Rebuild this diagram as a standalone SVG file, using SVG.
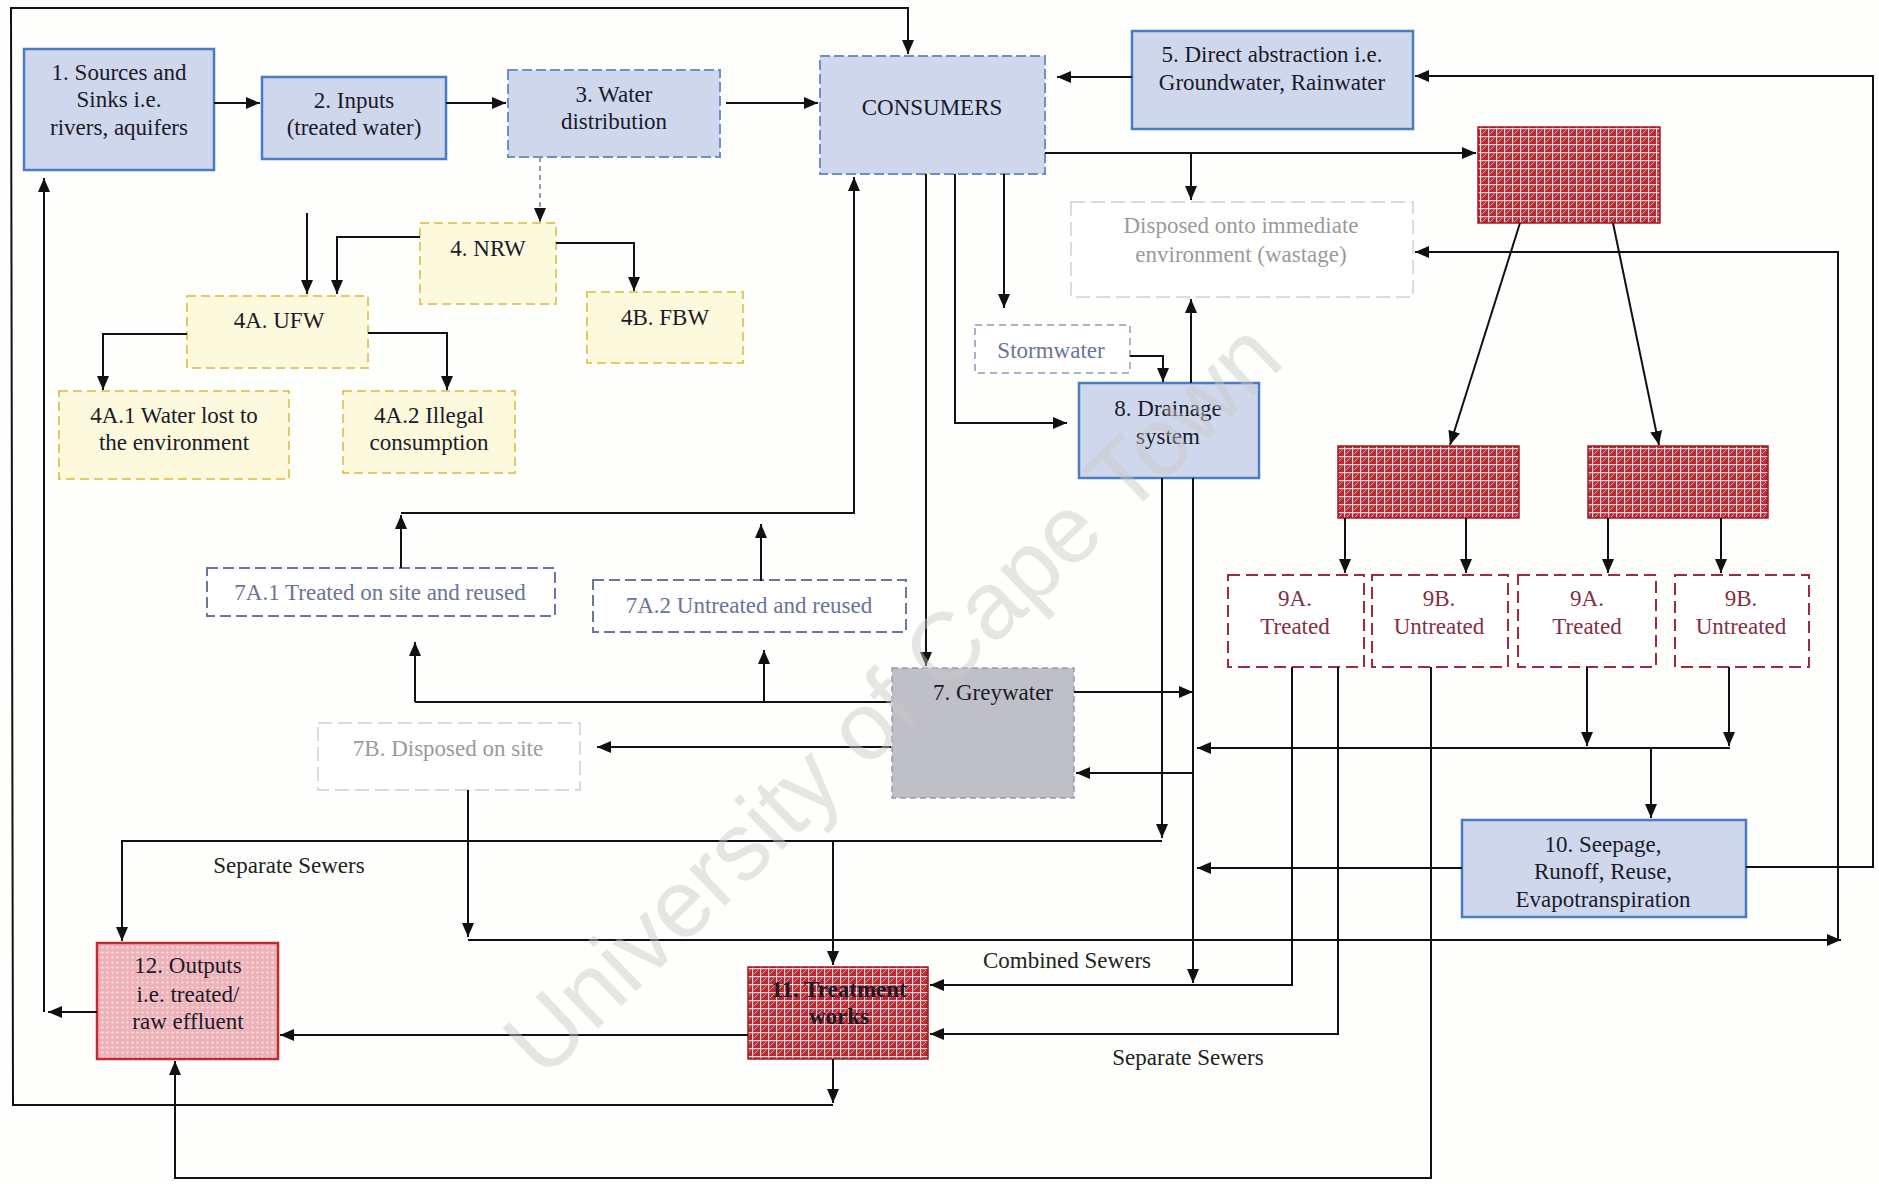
<svg xmlns="http://www.w3.org/2000/svg" width="1879" height="1184" viewBox="0 0 1879 1184">
<defs>
<marker id="ah" viewBox="0 0 14 12" refX="14" refY="6" markerWidth="14" markerHeight="12" markerUnits="userSpaceOnUse" orient="auto"><path d="M0,0 L14,6 L0,12 z" fill="#111"/></marker>
<pattern id="hatch" width="8" height="8" patternUnits="userSpaceOnUse"><rect width="8" height="8" fill="#b52a33"/><path d="M0,0.6H8M0.6,0V8" stroke="#f4d2d5" stroke-width="1.2"/><path d="M2,6L6,2" stroke="#eab0b5" stroke-width="0.9"/></pattern>
<pattern id="dots" width="5" height="5" patternUnits="userSpaceOnUse"><rect width="5" height="5" fill="#eeb3b9"/><circle cx="2.5" cy="2.5" r="1.1" fill="#fbe6e8"/></pattern>
<style>
text{font-family:"Liberation Serif","Times New Roman",serif;font-size:23px;text-anchor:middle;fill:#1a1a2a}
.blue{fill:#cfd7ec;stroke:#4a7cc4;stroke-width:2.5}
.blued{fill:#cfd7ec;stroke:#6f8fc8;stroke-width:2;stroke-dasharray:10 4}
.yel{fill:#fcf9dc;stroke:#e6c866;stroke-width:2;stroke-dasharray:9 5}
.red{fill:url(#hatch);stroke:#a01c26;stroke-width:1.5}
.nine{fill:#fff;stroke:#9c2a40;stroke-width:2;stroke-dasharray:12 6}
.ninet{fill:#85303f}
.sev{fill:#fff;stroke:#6878a0;stroke-width:2;stroke-dasharray:11 5}
.sevt{fill:#6a7498}
.pale{fill:#fff;stroke:#cfcfcf;stroke-width:1.5;stroke-dasharray:14 6}
.palet{fill:#9a9a9a}
.c path{fill:none;stroke:#111;stroke-width:2}
.c path.a{marker-end:url(#ah)}
.lbl{fill:#222}
</style>
</defs>
<rect width="1879" height="1184" fill="#fefefc"/>

<g id="n1"><rect class="blue" x="24" y="49" width="190" height="121"/><text x="119" y="80">1. Sources and</text><text x="119" y="107">Sinks i.e.</text><text x="119" y="135">rivers, aquifers</text></g>
<g id="n2"><rect class="blue" x="262" y="77" width="184" height="82"/><text x="354" y="108">2. Inputs</text><text x="354" y="135">(treated water)</text></g>
<g id="n3"><rect class="blued" x="508" y="70" width="212" height="87"/><text x="614" y="102">3. Water</text><text x="614" y="129">distribution</text></g>
<g id="consumers"><rect class="blued" x="820" y="56" width="225" height="118"/><text x="932" y="115">CONSUMERS</text></g>
<g id="n5"><rect class="blue" x="1132" y="31" width="281" height="98"/><text x="1272" y="62">5. Direct abstraction i.e.</text><text x="1272" y="90">Groundwater, Rainwater</text></g>
<g id="red-top"><rect class="red" x="1478" y="127" width="182" height="96"/></g>
<g id="disposed"><rect class="pale" x="1071" y="202" width="342" height="95"/><text class="palet" x="1241" y="233">Disposed onto immediate</text><text class="palet" x="1241" y="262">environment (wastage)</text></g>
<g id="n4"><rect class="yel" x="420" y="223" width="136" height="81"/><text x="488" y="256">4. NRW</text></g>
<g id="n4a"><rect class="yel" x="187" y="296" width="181" height="72"/><text x="279" y="328">4A. UFW</text></g>
<g id="n4b"><rect class="yel" x="587" y="292" width="156" height="71"/><text x="665" y="325">4B. FBW</text></g>
<g id="n4a1"><rect class="yel" x="59" y="391" width="230" height="88"/><text x="174" y="423">4A.1  Water lost to</text><text x="174" y="450">the environment</text></g>
<g id="n4a2"><rect class="yel" x="343" y="391" width="172" height="82"/><text x="429" y="423">4A.2 Illegal</text><text x="429" y="450">consumption</text></g>
<g id="stormwater"><rect class="sev" x="975" y="325" width="155" height="48" style="stroke:#8898c0;stroke-width:1.5;stroke-dasharray:7 5"/><text class="sevt" x="1051" y="358">Stormwater</text></g>
<g id="n8"><rect class="blue" x="1079" y="383" width="180" height="95"/><text x="1168" y="416">8. Drainage</text><text x="1168" y="444">system</text></g>
<g id="red-mid-left"><rect class="red" x="1338" y="446" width="181" height="72"/></g>
<g id="red-mid-right"><rect class="red" x="1588" y="446" width="180" height="72"/></g>
<g id="n7a1"><rect class="sev" x="207" y="568" width="348" height="48"/><text class="sevt" x="380" y="600">7A.1 Treated on site and reused</text></g>
<g id="n7a2"><rect class="sev" x="593" y="580" width="313" height="52"/><text class="sevt" x="749" y="613">7A.2 Untreated and reused</text></g>
<g id="n9a1"><rect class="nine" x="1228" y="575" width="136" height="92"/><text class="ninet" x="1295" y="606">9A.</text><text class="ninet" x="1295" y="634">Treated</text></g>
<g id="n9b1"><rect class="nine" x="1372" y="575" width="136" height="92"/><text class="ninet" x="1439" y="606">9B.</text><text class="ninet" x="1439" y="634">Untreated</text></g>
<g id="n9a2"><rect class="nine" x="1518" y="575" width="138" height="92"/><text class="ninet" x="1587" y="606">9A.</text><text class="ninet" x="1587" y="634">Treated</text></g>
<g id="n9b2"><rect class="nine" x="1675" y="575" width="134" height="92"/><text class="ninet" x="1741" y="606">9B.</text><text class="ninet" x="1741" y="634">Untreated</text></g>
<g id="n7"><rect x="892" y="668" width="182" height="130" fill="#bfbfc8" stroke="#9a9aa6" stroke-width="1.5" stroke-dasharray="6 4"/><text x="993" y="700">7. Greywater</text></g>
<g id="n7b"><rect class="pale" x="318" y="723" width="262" height="67"/><text class="palet" x="448" y="756">7B. Disposed on site</text></g>
<g id="n10"><rect class="blue" x="1462" y="820" width="284" height="97"/><text x="1603" y="852">10. Seepage,</text><text x="1603" y="879">Runoff, Reuse,</text><text x="1603" y="907">Evapotranspiration</text></g>
<g id="n12"><rect x="97" y="943" width="181" height="116" fill="url(#dots)" stroke="#c02a34" stroke-width="2.5"/><text x="188" y="973" fill="#3a2024">12. Outputs</text><text x="188" y="1002" fill="#3a2024">i.e. treated/</text><text x="188" y="1029" fill="#3a2024">raw effluent</text></g>
<g id="n11"><rect class="red" x="748" y="967" width="180" height="92"/><text x="839" y="997" fill="#2a0808" font-weight="bold">11. Treatment</text><text x="839" y="1024" fill="#2a0808" font-weight="bold">works</text></g>

<g id="connectors" class="c">
<path class="a" d="M214,103 L260,103"/>
<path class="a" d="M446,103 L506,103"/>
<path class="a" d="M726,103 L818,103"/>
<path class="a" d="M833,1105 L13,1105 L11,8 L908,8 L908,54"/>
<path class="a" d="M833,1059 L833,1103"/>
<path class="a" d="M97,1012 L48,1012"/>
<path class="a" d="M44,1012 L44,178"/>
<path class="a" d="M1132,77 L1057,77"/>
<path class="a" d="M1746,867 L1873,867 L1873,76 L1415,76"/>
<path class="a" d="M1045,153 L1476,153"/>
<path class="a" d="M1191,153 L1191,200"/>
<path class="a" d="M1838,940 L1838,252 L1415,252"/>
<path class="a" d="M468,940 L1841,940"/>
<path class="a" d="M468,790 L468,937"/>
<path class="a" d="M1520,223 L1450,445"/>
<path class="a" d="M1613,223 L1659,445"/>
<path class="a" d="M1345,518 L1345,573"/>
<path class="a" d="M1466,518 L1466,573"/>
<path class="a" d="M1608,518 L1608,573"/>
<path class="a" d="M1721,518 L1721,573"/>
<path class="a" d="M1292,667 L1292,985 L930,985"/>
<path class="a" d="M1338,667 L1338,1034 L930,1034"/>
<path class="a" d="M1431,667 L1431,1178 L175,1178 L175,1061"/>
<path class="a" d="M1587,667 L1587,746"/>
<path class="a" d="M1729,667 L1729,746"/>
<path class="a" d="M1730,748 L1197,748"/>
<path class="a" d="M1651,748 L1651,818"/>
<path class="a" d="M1462,868 L1197,868"/>
<path class="a" d="M1162,478 L1162,838"/>
<path class="a" d="M1162,841 L122,841 L122,941"/>
<path class="a" d="M833,841 L833,965"/>
<path class="a" d="M1193,478 L1193,983"/>
<path class="a" d="M1074,692 L1193,692"/>
<path class="a" d="M1193,773 L1076,773"/>
<path d="M891,702 L415,702"/>
<path class="a" d="M415,702 L415,642"/>
<path class="a" d="M764,702 L764,650"/>
<path class="a" d="M891,747 L597,747"/>
<path class="a" d="M401,568 L401,515"/>
<path class="a" d="M401,513 L854,513 L854,177"/>
<path class="a" d="M761,581 L761,524"/>
<path class="a" d="M926,174 L926,666"/>
<path class="a" d="M955,174 L955,423 L1067,423"/>
<path class="a" d="M1004,174 L1004,308"/>
<path class="a" d="M1130,356 L1163,356 L1163,382"/>
<path class="a" d="M1191,383 L1191,299"/>
<path class="a" d="M540,157 L540,222" style="stroke:#9a9a9a;stroke-dasharray:5 4"/>
<path class="a" d="M307,213 L307,294"/>
<path class="a" d="M420,237 L337,237 L337,294"/>
<path class="a" d="M556,243 L634,243 L634,291"/>
<path class="a" d="M187,334 L103,334 L103,390"/>
<path class="a" d="M368,333 L447,333 L447,390"/>
<path class="a" d="M748,1035 L280,1035"/>
</g>

<g id="labels">
<text class="lbl" x="289" y="873">Separate Sewers</text>
<text class="lbl" x="1067" y="968">Combined Sewers</text>
<text class="lbl" x="1188" y="1065">Separate Sewers</text>
</g>

<text x="0" y="0" transform="translate(915,722) rotate(-44)" style="font-family:'Liberation Sans',Arial,sans-serif;font-size:96px;fill:#c8c8c8;opacity:0.45">University of Cape Town</text>
</svg>
